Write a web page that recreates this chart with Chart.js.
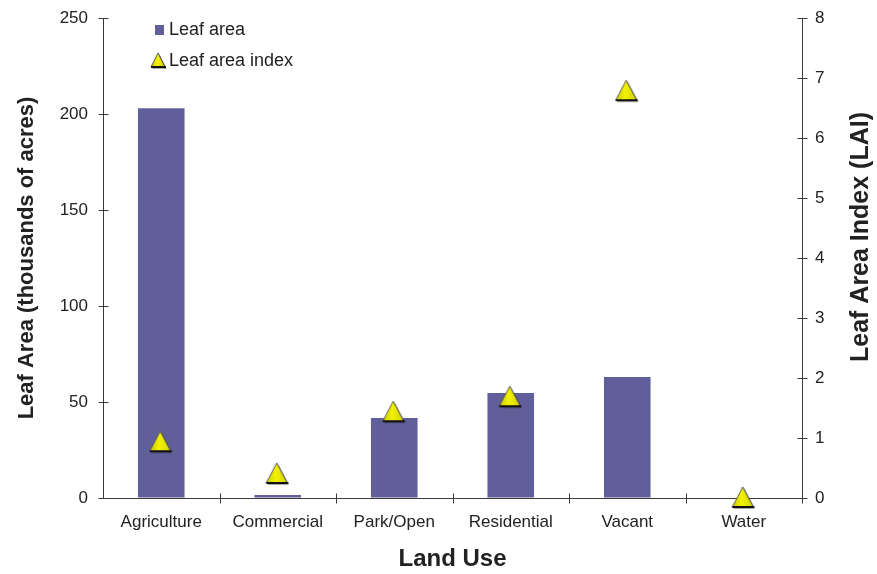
<!DOCTYPE html>
<html>
<head>
<meta charset="utf-8">
<title>Leaf area by land use</title>
<script src="https://cdn.jsdelivr.net/npm/chart.js@4.4.1/dist/chart.umd.min.js"></script>
<style>
  html, body { margin: 0; padding: 0; background: #fff; }
  #wrap { width: 877px; height: 574px; }
</style>
</head>
<body>
<div id="wrap"><canvas id="leafChart" width="877" height="574"></canvas></div>
<script>
// Land use categories and the two measured series
const landUses = ['Agriculture', 'Commercial', 'Park/Open', 'Residential', 'Vacant', 'Water'];
const leafAreaAcres = [203, 1.5, 41.7, 54.7, 63, 0];      // thousands of acres
const leafAreaIndex = [0.93, 0.4, 1.43, 1.68, 6.78, 0];   // LAI
const areaTicks = [0, 50, 100, 150, 200, 250];
const laiTicks = [0, 1, 2, 3, 4, 5, 6, 7, 8];

const BAR_COLOR = '#605f99';
const AXIS_COLOR = '#3a3a3a';
const TEXT_COLOR = '#222';
const FONT = '"Liberation Sans", Arial, sans-serif';

// Yellow triangle marker with a dark drop edge
function drawTriangle(ctx, cx, cy, w, h) {
  const top = cy - h / 2, bot = cy + h / 2;
  ctx.save();
  ctx.beginPath();
  ctx.moveTo(cx + 1.5, top + 1.5);
  ctx.lineTo(cx + w / 2 + 1.5, bot + 1.5);
  ctx.lineTo(cx - w / 2 + 1.5, bot + 1.5);
  ctx.closePath();
  ctx.fillStyle = 'rgba(30,30,30,0.75)';
  ctx.fill();
  const grad = ctx.createLinearGradient(cx - w / 2, 0, cx + w / 2, 0);
  grad.addColorStop(0, '#c9c900');
  grad.addColorStop(0.45, '#f2f200');
  grad.addColorStop(1, '#d4d400');
  ctx.beginPath();
  ctx.moveTo(cx, top);
  ctx.lineTo(cx + w / 2, bot);
  ctx.lineTo(cx - w / 2, bot);
  ctx.closePath();
  ctx.fillStyle = grad;
  ctx.fill();
  ctx.strokeStyle = '#5a5a5a';
  ctx.lineWidth = 1;
  ctx.stroke();
  ctx.beginPath();
  ctx.moveTo(cx - w / 2, bot);
  ctx.lineTo(cx + w / 2 + 1, bot);
  ctx.strokeStyle = '#111';
  ctx.lineWidth = 2;
  ctx.stroke();
  ctx.restore();
}

const marker = document.createElement('canvas');
marker.width = 28;
marker.height = 26;
drawTriangle(marker.getContext('2d'), 13, 12, 21, 20);

// Tick marks that cross each axis line, plus legend and right axis title
const extrasPlugin = {
  id: 'extras',
  afterDraw(chart) {
    const ctx = chart.ctx;
    const { y, y1 } = chart.scales;
    const area = chart.chartArea;
    ctx.save();
    ctx.strokeStyle = AXIS_COLOR;
    ctx.lineWidth = 1;
    ctx.beginPath();
    const lx = Math.round(area.left) + 0.5;
    const rx = Math.round(area.right) + 0.5;
    const by = Math.round(area.bottom) + 0.5;
    y.ticks.forEach((t, i) => {
      const py = Math.round(y.getPixelForTick(i)) + 0.5;
      ctx.moveTo(lx - 5, py);
      ctx.lineTo(lx + 5, py);
    });
    y1.ticks.forEach((t, i) => {
      const py = Math.round(y1.getPixelForTick(i)) + 0.5;
      ctx.moveTo(rx - 5, py);
      ctx.lineTo(rx + 5, py);
    });
    const step = (area.right - area.left) / landUses.length;
    for (let i = 1; i <= landUses.length; i++) {
      const px = Math.round(area.left + i * step) + 0.5;
      ctx.moveTo(px, by - 5);
      ctx.lineTo(px, by + 5);
    }
    ctx.stroke();

    // legend
    ctx.fillStyle = BAR_COLOR;
    ctx.fillRect(155, 25, 9, 10);
    drawTriangle(ctx, 158, 60, 14, 14);
    ctx.fillStyle = TEXT_COLOR;
    ctx.font = '18px ' + FONT;
    ctx.textAlign = 'left';
    ctx.textBaseline = 'middle';
    ctx.fillText('Leaf area', 169, 30);
    ctx.fillText('Leaf area index', 169, 61);

    // right axis title, reading bottom to top
    ctx.translate(861, 237);
    ctx.rotate(-Math.PI / 2);
    ctx.font = 'bold 25px ' + FONT;
    ctx.textAlign = 'center';
    ctx.fillText('Leaf Area Index (LAI)', 0, 0);
    ctx.restore();
  }
};

const HIDDEN = 'rgba(0,0,0,0)';

// fixed axis box sizes so the plot area sits at the same spot every time
function fixVertical(width) {
  return (s) => {
    s.width = width;
    s.paddingTop = 0;
    s.paddingBottom = 0;
  };
}

const ctx = document.getElementById('leafChart').getContext('2d');
new Chart(ctx, {
  data: {
    labels: landUses,
    datasets: [
      {
        type: 'line',
        label: 'Leaf area index',
        data: leafAreaIndex,
        yAxisID: 'y1',
        showLine: false,
        pointStyle: marker,
        pointRadius: 10,
        clip: false,
        order: 0
      },
      {
        type: 'bar',
        label: 'Leaf area',
        data: leafAreaAcres,
        yAxisID: 'y',
        backgroundColor: BAR_COLOR,
        barPercentage: 0.8,
        categoryPercentage: 0.5,
        order: 1
      }
    ]
  },
  options: {
    responsive: false,
    animation: false,
    layout: { padding: { top: 18 } },
    plugins: {
      legend: { display: false },
      tooltip: { enabled: false }
    },
    scales: {
      x: {
        afterFit: (s) => { s.height = 76; s.paddingLeft = 0; s.paddingRight = 0; },
        grid: { offset: true, drawOnChartArea: false, tickLength: 5, tickColor: HIDDEN },
        border: { color: AXIS_COLOR },
        ticks: { color: TEXT_COLOR, font: { family: FONT, size: 17 }, padding: 9, maxRotation: 0 },
        title: {
          display: true,
          text: 'Land Use',
          color: TEXT_COLOR,
          font: { family: FONT, size: 24, weight: 'bold' },
          padding: { top: 0, bottom: 0 }
        }
      },
      y: {
        position: 'left',
        min: 0,
        max: 250,
        afterFit: fixVertical(103),
        afterBuildTicks: (s) => { s.ticks = areaTicks.map(v => ({ value: v })); },
        grid: { drawOnChartArea: false, tickLength: 5, tickColor: HIDDEN },
        border: { color: AXIS_COLOR },
        ticks: { color: TEXT_COLOR, font: { family: FONT, size: 17 }, padding: 10 },
        title: {
          display: true,
          text: 'Leaf Area (thousands of acres)',
          color: TEXT_COLOR,
          font: { family: FONT, size: 22, weight: 'bold' },
          padding: { top: 14, bottom: 0 }
        }
      },
      y1: {
        position: 'right',
        min: 0,
        max: 8,
        afterFit: fixVertical(75),
        afterBuildTicks: (s) => { s.ticks = laiTicks.map(v => ({ value: v })); },
        grid: { drawOnChartArea: false, tickLength: 5, tickColor: HIDDEN },
        border: { color: AXIS_COLOR },
        ticks: { color: TEXT_COLOR, font: { family: FONT, size: 17 }, padding: 8 }
      }
    }
  },
  plugins: [extrasPlugin]
});
</script>
</body>
</html>
